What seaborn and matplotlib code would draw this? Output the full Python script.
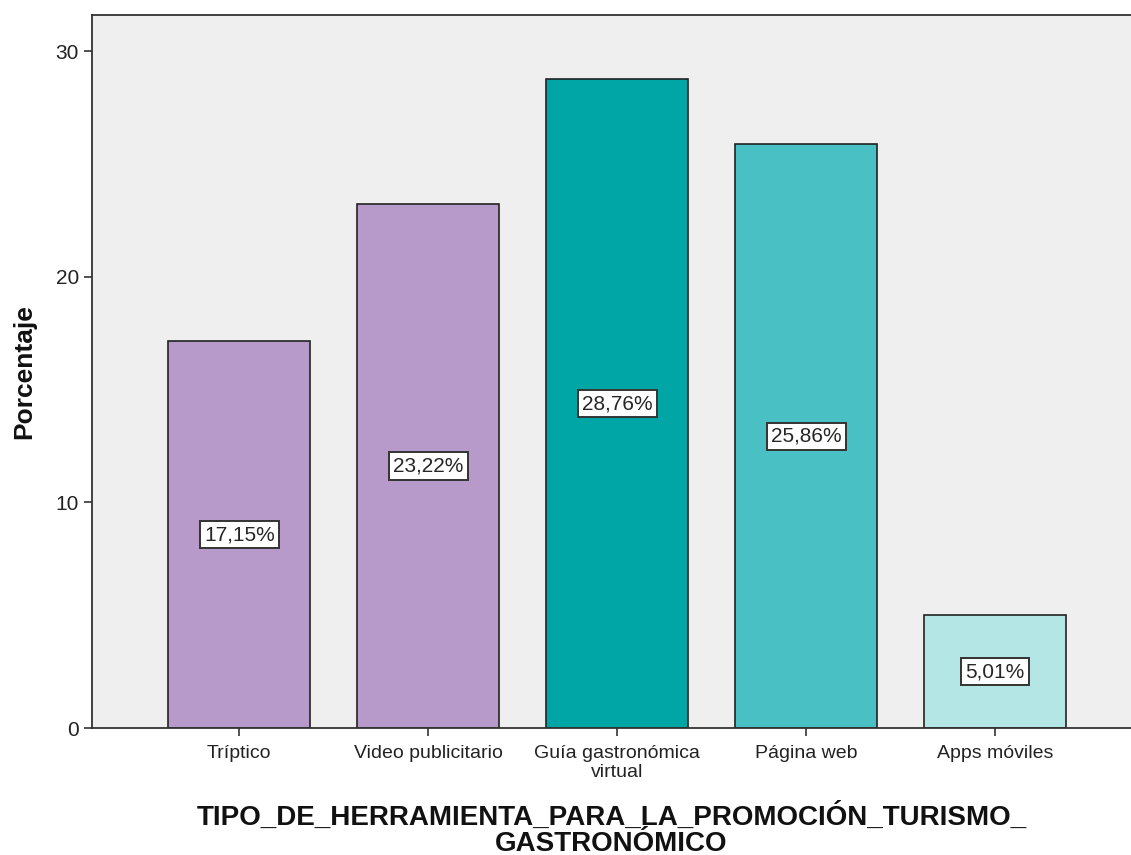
import pandas as pd
import matplotlib
matplotlib.use("Agg")
import matplotlib.pyplot as plt
import seaborn as sns

# data
categorias = ["Tríptico", "Video publicitario", "Guía gastronómica\nvirtual", "Página web", "Apps móviles"]
porcentajes = [17.15, 23.22, 28.76, 25.86, 5.01]
colores = ["#B89ACA", "#B89ACA", "#00A6A6", "#48C0C4", "#B4E6E6"]

df = pd.DataFrame({"cat": categorias, "pct": porcentajes})

sns.set_style("white")
plt.rcParams["font.family"] = ["Liberation Sans", "DejaVu Sans"]

fig = plt.figure(figsize=(11.31, 8.55), dpi=100)
ax = fig.add_axes([0.0813, 0.1485, 0.9187, 0.834])
ax.set_facecolor("#EFEFEF")

sns.barplot(data=df, x="cat", y="pct", hue="cat", palette=colores, legend=False, saturation=1,
            width=0.75, edgecolor="#222222", linewidth=1.2, ax=ax)

for i, v in enumerate(porcentajes):
    ax.text(i, v / 2, f"{v:.2f}%".replace(".", ","), ha="center", va="center", fontsize=15,
            bbox=dict(boxstyle="square,pad=0.2", facecolor="white", edgecolor="#333333", linewidth=1.4))

ax.set_xlim(-0.78, 4.72)
ax.set_ylim(0, 31.6)
ax.set_yticks([0, 10, 20, 30])
ax.set_xticks(range(len(categorias)))
ax.set_xticklabels(categorias, linespacing=1.15)
ax.tick_params(axis="both", length=6, width=1.2, color="#333333", labelsize=14, direction="out",
               left=True, bottom=True, labelcolor="#222222")
ax.tick_params(axis="y", labelsize=15)
ax.tick_params(axis="x", pad=6)
for s in ["left", "bottom", "top"]:
    ax.spines[s].set_color("#333333")
    ax.spines[s].set_linewidth(1.3)
ax.spines["right"].set_visible(False)

ax.set_ylabel("Porcentaje", fontsize=19, fontweight="bold", labelpad=14, color="#111111")
ax.set_xlabel("TIPO_DE_HERRAMIENTA_PARA_LA_PROMOCIÓN_TURISMO_\nGASTRONÓMICO", fontsize=20,
              fontweight="bold", linespacing=0.98, labelpad=16, color="#111111")

fig.savefig("out.png", dpi=100)
